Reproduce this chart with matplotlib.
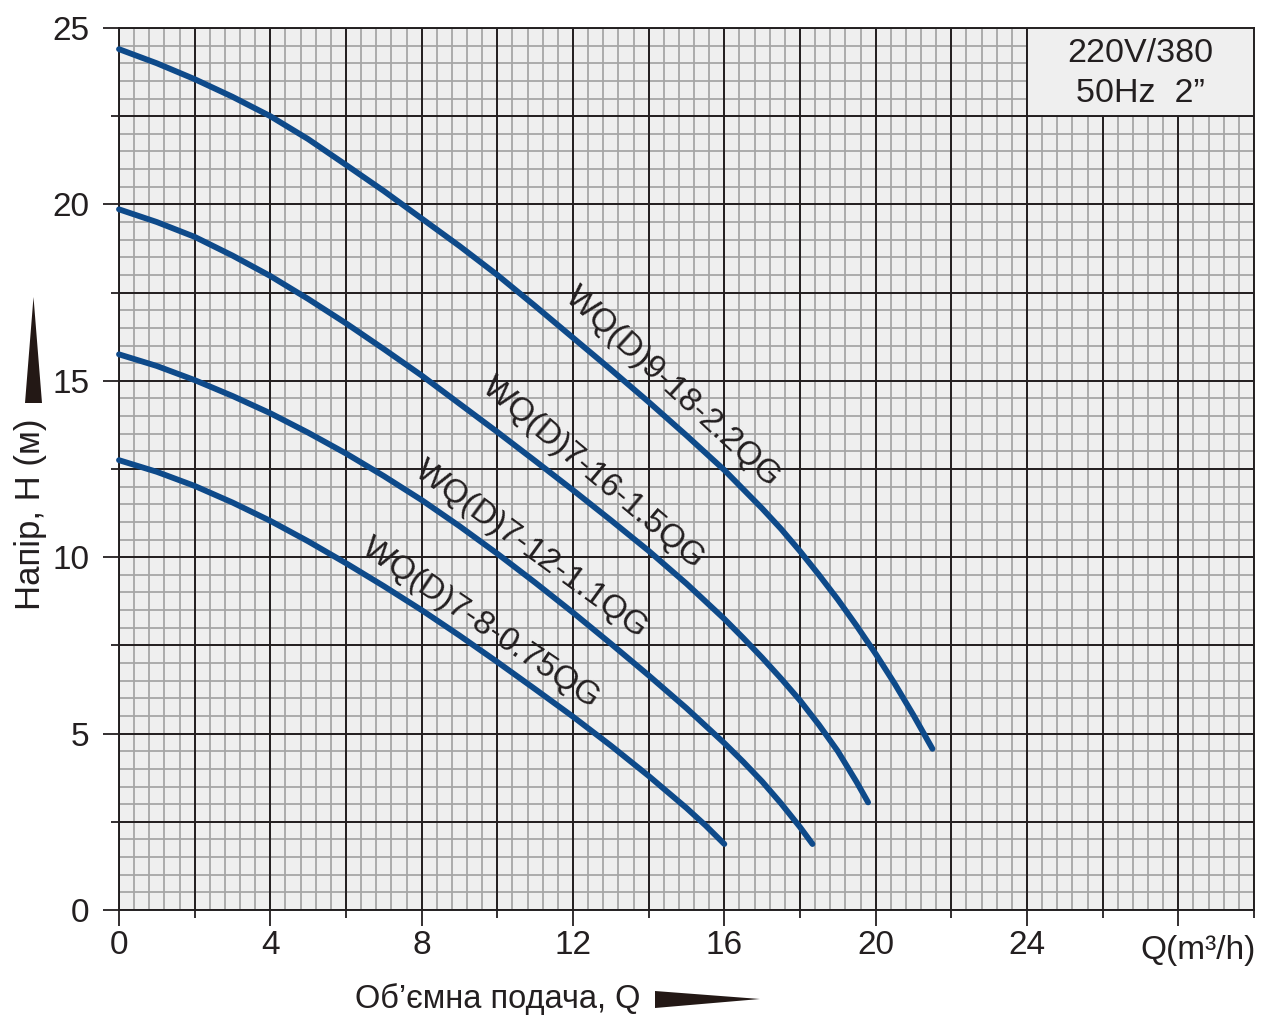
import numpy as np
import matplotlib
matplotlib.use('Agg')
import matplotlib.pyplot as plt
from matplotlib.patches import Rectangle, Polygon

plt.rcParams['font.family'] = ['Liberation Sans', 'DejaVu Sans']

# pump curves: flow Q (m3/h) and head H (m)
q_22 = [0, 1, 2, 3, 4, 5, 6, 7, 8, 9, 10, 11, 12, 13, 14, 15, 16, 17, 17.5, 18, 18.5,
        19, 19.5, 20, 20.5, 21, 21.5]
h_22 = [24.4, 24.0, 23.55, 23.05, 22.5, 21.85, 21.12, 20.38, 19.6, 18.82, 18.0, 17.12,
        16.22, 15.32, 14.4, 13.45, 12.47, 11.38, 10.8, 10.17, 9.5, 8.8, 8.05, 7.26,
        6.42, 5.52, 4.57]

q_15 = [0, 1, 2, 3, 4, 5, 6, 7, 8, 9, 10, 11, 12, 13, 14, 15, 16, 16.5, 17, 17.5, 18,
        18.5, 19, 19.5, 19.8]
h_15 = [19.86, 19.5, 19.08, 18.55, 17.97, 17.32, 16.63, 15.9, 15.15, 14.35, 13.55, 12.73,
        11.9, 11.05, 10.18, 9.25, 8.25, 7.71, 7.15, 6.56, 5.94, 5.25, 4.5, 3.62, 3.05]

q_11 = [0, 1, 2, 3, 4, 5, 6, 7, 8, 9, 10, 11, 12, 13, 14, 15, 16, 16.5, 17, 17.5, 18, 18.33]
h_11 = [15.75, 15.42, 15.02, 14.57, 14.08, 13.53, 12.94, 12.3, 11.62, 10.88, 10.1, 9.28,
        8.43, 7.55, 6.65, 5.72, 4.73, 4.2, 3.64, 3.02, 2.35, 1.87]

q_075 = [0, 1, 2, 3, 4, 5, 6, 7, 8, 9, 10, 11, 12, 13, 14, 15, 15.5, 16]
h_075 = [12.75, 12.42, 12.02, 11.55, 11.03, 10.45, 9.83, 9.18, 8.5, 7.78, 7.03, 6.26,
         5.48, 4.66, 3.8, 2.89, 2.4, 1.87]

curve_names = ['WQ(D)9-18-2.2QG', 'WQ(D)7-16-1.5QG', 'WQ(D)7-12-1.1QG', 'WQ(D)7-8-0.75QG']
x_tick_labels = ['0', '4', '8', '12', '16', '20', '24', '']
y_tick_labels = ['0', '5', '10', '15', '20', '25']

W, H = 1280, 1032
fig = plt.figure(figsize=(W / 100, H / 100), dpi=100)
ax = fig.add_axes([119 / W, 1 - 910 / H, (1254 - 119) / W, (910 - 28) / H])
ax.set_facecolor('#efefef')
ax.set_xlim(0, 30)
ax.set_ylim(0, 25)

dark = '#231f20'

# graph paper grid
ax.vlines(np.linspace(0, 30, 76), 0, 25, color='#a6a6a6', lw=1.3, zorder=1)
ax.hlines(np.linspace(0, 25, 51), 0, 30, color='#a6a6a6', lw=1.3, zorder=1)
ax.vlines(np.linspace(0, 30, 16), 0, 25, color=dark, lw=1.4, zorder=2)
ax.hlines(np.linspace(0, 25, 11), 0, 30, color=dark, lw=1.4, zorder=2)

for s in ax.spines.values():
    s.set_color(dark)
    s.set_linewidth(1.4)

ax.set_xticks(np.arange(0, 29, 4))
ax.set_xticklabels(x_tick_labels)
ax.set_xticks(np.arange(2, 31, 4), minor=True)
ax.set_yticks(np.arange(0, 26, 5))
ax.set_yticklabels(y_tick_labels)
ax.set_yticks(np.arange(2.5, 25, 5), minor=True)
ax.tick_params(axis='both', which='major', length=11.5, width=1.3, color=dark,
               labelsize=24, labelcolor=dark)
ax.tick_params(axis='both', which='minor', length=5.5, width=1.3, color=dark)
ax.tick_params(axis='x', which='major', pad=3)
ax.tick_params(axis='y', which='major', pad=10)

ax.annotate('Q(m³/h)', xy=(30, 0), xytext=(1, -18), textcoords='offset points',
            ha='right', va='top', fontsize=24, color=dark, annotation_clip=False)

# voltage box
ax.add_patch(Rectangle((24, 22.5), 6, 2.5, facecolor='#efefef', edgecolor=dark,
                       lw=1.4, zorder=3))
ax.text(27, 23.71, '220V/380\n50Hz  2”', ha='center', va='center', fontsize=24.5,
        linespacing=1.38, color=dark, zorder=4)

blue = '#0e4a8a'
for q, h in [(q_22, h_22), (q_15, h_15), (q_11, h_11), (q_075, h_075)]:
    ax.plot(q, h, color=blue, lw=4.2, solid_capstyle='round',
            solid_joinstyle='round', zorder=5, clip_on=False)

label_pos = [(14.64, 14.82, -42.5), (12.53, 12.39, -40), (10.89, 10.2, -36), (9.57, 8.13, -34)]
for name, (x, y, rot) in zip(curve_names, label_pos):
    ax.text(x, y, name, rotation=rot, rotation_mode='anchor', ha='center', va='center',
            fontsize=24, color=dark, zorder=6)

# axis titles with wedge arrows
def fxy(px, py):
    return px / W, 1 - py / H

fig.text(*fxy(31, 514), 'Напір, Н (м)', rotation=90, ha='center', va='center',
         fontsize=25, color=dark)
fig.text(*fxy(498, 999), 'Об’ємна подача, Q', ha='center', va='center',
         fontsize=23.5, color=dark)
fig.patches.append(Polygon([fxy(25, 403), fxy(42, 403), fxy(33.5, 297)], closed=True,
                           transform=fig.transFigure, facecolor='#231815', edgecolor='none'))
fig.patches.append(Polygon([fxy(655, 991), fxy(655, 1008), fxy(760, 999)], closed=True,
                           transform=fig.transFigure, facecolor='#231815', edgecolor='none'))

fig.savefig('out.png', dpi=100, facecolor='white')
